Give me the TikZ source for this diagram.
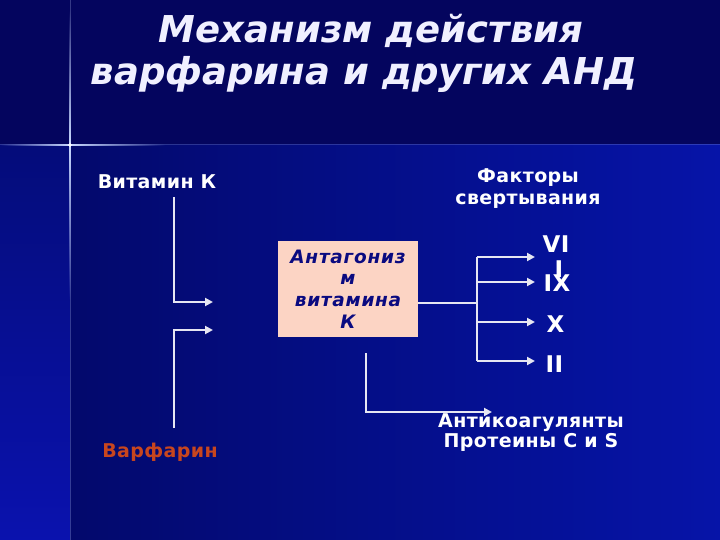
\documentclass[tikz,border=0pt]{standalone}
\usepackage{fontspec}
\setmainfont{DejaVu Sans}
\newfontfamily\labfont[LetterSpace=2]{DejaVu Sans}
\newfontfamily\boxfont[LetterSpace=4]{DejaVu Sans}
\newfontfamily\titlefont{DejaVu Sans}
\usetikzlibrary{arrows.meta,fadings}
\definecolor{topbg}{HTML}{04055E}
\definecolor{mainL}{HTML}{03096C}
\definecolor{mainR}{HTML}{0614A8}
\definecolor{stripT}{HTML}{040C7A}
\definecolor{stripB}{HTML}{0A12AE}
\definecolor{boxfill}{HTML}{FCD4C4}
\definecolor{boxtext}{HTML}{0A0A80}
\definecolor{warf}{HTML}{C8461E}
\definecolor{wirec}{HTML}{E6E6F2}
\definecolor{glow}{HTML}{C8D8FF}
\begin{document}
\begin{tikzpicture}[x=1pt,y=-1pt,
  titletext/.style={text=white!94!blue, font=\titlefont\bfseries\itshape\fontsize{37}{40}\selectfont, inner sep=0pt, anchor=base},
  lab/.style={text=white, font=\labfont\bfseries\fontsize{19}{21}\selectfont, inner sep=0pt, anchor=base},
  roman/.style={text=white, font=\labfont\bfseries\fontsize{23}{25}\selectfont, inner sep=0pt, anchor=base},
  antbox/.style={fill=boxfill, draw=none, minimum width=140pt, minimum height=96pt, inner sep=0pt, align=center,
     text=boxtext, font=\boxfont\bfseries\itshape\fontsize{18.5}{21.7}\selectfont},
  wire/.style={draw=wirec, line width=2pt},
  arr/.style={wire, -{Triangle[length=8pt,width=8pt]}}
]
\useasboundingbox (0,0) rectangle (720,540);
% background
\fill[topbg] (0,0) rectangle (720,145);
\shade[left color=mainL, right color=mainR] (70,145) rectangle (720,540);
\shade[top color=stripT, bottom color=stripB] (0,145) rectangle (70,540);
% star glow
\draw[glow, opacity=0.25, line width=1pt] (70,0) -- (70,540);
\draw[glow, opacity=0.2, line width=1pt] (0,145) -- (720,145);
\fill[glow, path fading=east] (70,143.8) rectangle (165,146.4);
\fill[glow, path fading=west] (0,143.8) rectangle (70,146.4);
\fill[glow, path fading=south] (68.8,145) rectangle (71.4,300);
\fill[glow, path fading=north] (68.8,10) rectangle (71.4,145);
\fill[white] (70,145) circle (1.8pt);
% title
\node[titletext] (title1) at (371,43) {Механизм действия};
\node[titletext] (title2) at (364,85) {варфарина и других АНД};
% left labels
\node[lab] (vit) at (157,189) {Витамин К};
\node[lab, text=warf] (warf) at (160,457) {Варфарин};
% central box
\node[antbox] (box) at (348,289) {Антагониз\\м\\витамина\\К};
% factors
\node[lab] (fact1) at (528,183) {Факторы};
\node[lab] (fact2) at (528,205) {свертывания};
\node[roman] (vi) at (556,252) {VI};
\node[roman] (vii) at (559,277) {I};
\node[roman] (ix) at (557,291) {IX};
\node[roman] (x) at (555.5,332) {X};
\node[roman] (ii) at (554.5,372) {II};
% anticoagulants
\node[lab] (anti1) at (531,427) {Антикоагулянты};
\node[lab] (anti2) at (531,447) {Протеины С и S};
% connectors left
\coordinate (vstart) at (174,197);
\coordinate (vend) at (213,302);
\coordinate (wstart) at (174,428);
\coordinate (wend) at (213,330);
\draw[arr] (vstart) |- (vend);
\draw[arr] (wstart) |- (wend);
% connectors right
\coordinate (hubmid) at (477,303);
\coordinate (hubtop) at (477,257);
\coordinate (hubbot) at (477,361);
\draw[wire] (box.east |- hubmid) -- (hubmid);
\draw[wire] (hubtop) -- (hubbot);
\coordinate (e1) at (535,257);
\coordinate (e2) at (535,282);
\coordinate (e3) at (535,322);
\coordinate (e4) at (535,361);
\draw[arr] (hubtop) -- (e1);
\draw[arr] (hubtop |- e2) -- (e2);
\draw[arr] (hubtop |- e3) -- (e3);
\draw[arr] (hubbot) -- (e4);
% bottom connector
\coordinate (astart) at (366,353);
\coordinate (aend) at (492,412);
\draw[arr] (astart) |- (aend);
\end{tikzpicture}
\end{document}
